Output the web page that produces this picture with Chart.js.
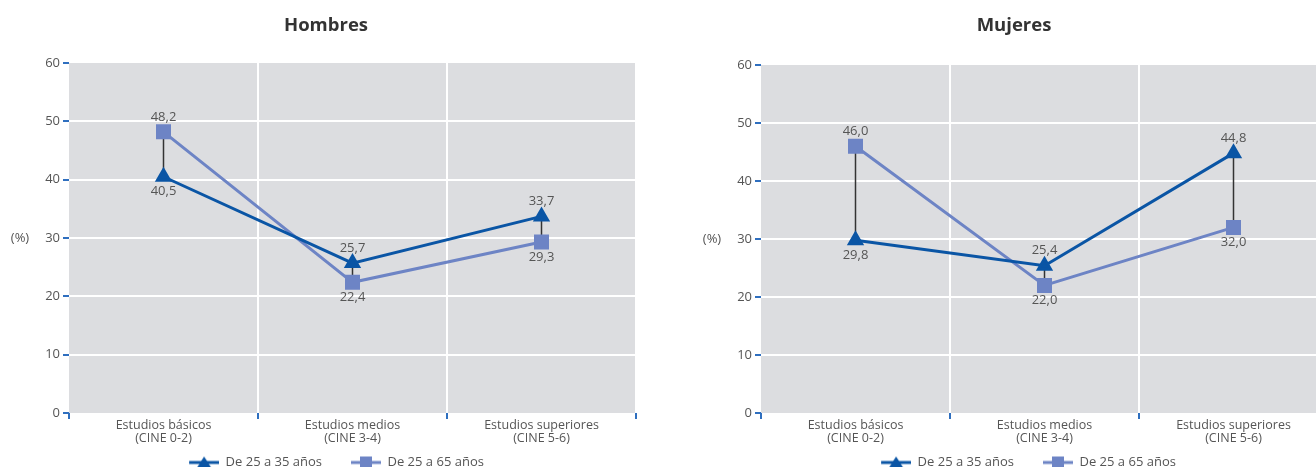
<!DOCTYPE html>
<html>
<head>
<meta charset="utf-8">
<script src="https://cdn.jsdelivr.net/npm/chart.js@4/dist/chart.umd.min.js"></script>
<style>
  html, body { margin: 0; padding: 0; background: #fff; }
  #wrap { position: relative; width: 1316px; height: 467px; overflow: hidden; }
  .box { position: absolute; top: 0; width: 656px; height: 479px; }
</style>
</head>
<body>
<div id="wrap">
  <div class="box" style="left:0"><canvas id="hombres"></canvas></div>
  <div class="box" style="left:692px"><canvas id="mujeres"></canvas></div>
</div>
<script>
// datos
const categorias = [["Estudios básicos", "(CINE 0-2)"], ["Estudios medios", "(CINE 3-4)"], ["Estudios superiores", "(CINE 5-6)"]];
const series = ["De 25 a 35 años", "De 25 a 65 años"];
const hombres35 = [40.5, 25.7, 33.7];
const hombres65 = [48.2, 22.4, 29.3];
const mujeres35 = [29.8, 25.4, 44.8];
const mujeres65 = [46.0, 22.0, 32.0];
const ticksY = [0, 10, 20, 30, 40, 50, 60];

const AZUL = "#0a55a5";
const AZUL_CLARO = "#6d84c5";
const GRIS = "#dcdde0";
const TEXTO = "#555";
const FUENTE = "'Open Sans', sans-serif";

const fmt = v => v.toFixed(1).replace(".", ",");

// iconos de leyenda: hueco a la izquierda + linea con marcador
function icono(color, tipo) {
  const c = document.createElement("canvas");
  c.width = 55; c.height = 14;
  const ctx = c.getContext("2d");
  const x0 = 25;
  ctx.strokeStyle = color; ctx.lineWidth = 3;
  ctx.beginPath(); ctx.moveTo(x0, 7); ctx.lineTo(x0 + 30, 7); ctx.stroke();
  ctx.fillStyle = color;
  ctx.beginPath();
  if (tipo === "triangle") {
    ctx.moveTo(x0 + 15, 1); ctx.lineTo(x0 + 22, 12); ctx.lineTo(x0 + 8, 12); ctx.closePath();
  } else {
    ctx.rect(x0 + 9, 1, 12, 12);
  }
  ctx.fill();
  return c;
}
const iconos = [icono(AZUL, "triangle"), icono(AZUL_CLARO, "rect")];

// fondo gris, titulo, (%), conectores y etiquetas
const extras = {
  id: "extras",
  beforeDraw(chart, args, opts) {
    const a = chart.chartArea, ctx = chart.ctx;
    ctx.save();
    ctx.fillStyle = GRIS;
    ctx.fillRect(a.left, a.top, a.right - a.left, a.bottom - a.top);
    ctx.fillStyle = "#333";
    ctx.font = "bold 18.5px " + FUENTE;
    ctx.textAlign = "center"; ctx.textBaseline = "middle";
    ctx.fillText(opts.titulo, opts.tituloX, 26);
    ctx.fillStyle = TEXTO;
    ctx.font = "13px " + FUENTE;
    ctx.fillText("(%)", 20, (a.top + a.bottom) / 2);
    ctx.restore();
  },
  beforeDatasetsDraw(chart) {
    const ctx = chart.ctx;
    const m0 = chart.getDatasetMeta(0).data, m1 = chart.getDatasetMeta(1).data;
    ctx.save();
    ctx.strokeStyle = "#333"; ctx.lineWidth = 1.5;
    m0.forEach((p, i) => {
      ctx.beginPath(); ctx.moveTo(p.x, p.y); ctx.lineTo(m1[i].x, m1[i].y); ctx.stroke();
    });
    ctx.restore();
  },
  afterDatasetsDraw(chart) {
    const ctx = chart.ctx;
    const d0 = chart.data.datasets[0].data, d1 = chart.data.datasets[1].data;
    const m0 = chart.getDatasetMeta(0).data, m1 = chart.getDatasetMeta(1).data;
    ctx.save();
    ctx.fillStyle = TEXTO;
    ctx.font = "13px " + FUENTE;
    ctx.textAlign = "center"; ctx.textBaseline = "middle";
    d0.forEach((v, i) => {
      const arriba0 = v >= d1[i];
      ctx.fillText(fmt(v), m0[i].x, m0[i].y + (arriba0 ? -15 : 15));
      ctx.fillText(fmt(d1[i]), m1[i].x, m1[i].y + (arriba0 ? 15 : -15));
    });
    ctx.restore();
  }
};

function grafico(id, titulo, tituloX, top, d35, d65) {
  new Chart(document.getElementById(id), {
    type: "line",
    data: {
      labels: categorias,
      datasets: [
        { label: series[0], data: d35, borderColor: AZUL, backgroundColor: AZUL, borderWidth: 3,
          pointStyle: "triangle", pointRadius: 7, pointHoverRadius: 7 },
        { label: series[1], data: d65, borderColor: AZUL_CLARO, backgroundColor: AZUL_CLARO, borderWidth: 3,
          pointStyle: "rect", pointRadius: 8.5, pointHoverRadius: 8.5 }
      ]
    },
    options: {
      responsive: true,
      maintainAspectRatio: false,
      animation: false,
      layout: { padding: { top: top, left: 12, right: 20, bottom: 0 } },
      scales: {
        x: {
          offset: true,
          grid: {
            offset: true,
            color: c => (c.index === 0 || c.index === categorias.length) ? "rgba(0,0,0,0)" : "#fff",
            lineWidth: 2, tickColor: "#2f6fbf", tickLength: 6, tickWidth: 2
          },
          border: { display: false },
          ticks: { color: TEXTO, padding: 0, font: { family: FUENTE, size: 12.5, lineHeight: 1.06 } },
          afterFit: s => { s.height = 39; }
        },
        y: {
          min: 0, max: 60,
          afterBuildTicks: s => { s.ticks = ticksY.map(v => ({ value: v })); },
          grid: {
            color: c => (c.tick.value === 0 || c.tick.value === 60) ? "rgba(0,0,0,0)" : "#fff",
            lineWidth: 2, tickColor: "#2f6fbf", tickLength: 6, tickWidth: 2
          },
          border: { display: false },
          ticks: { color: TEXTO, padding: 3, font: { family: FUENTE, size: 13 } },
          afterFit: s => { s.width = 57; }
        }
      },
      plugins: {
        extras: { titulo: titulo, tituloX: tituloX },
        tooltip: { enabled: false },
        title: { display: false },
        legend: {
          position: "bottom",
          labels: {
            usePointStyle: true, pointStyleWidth: 55, padding: 4,
            color: TEXTO, font: { family: FUENTE, size: 13 },
            generateLabels: chart => chart.data.datasets.map((ds, i) => ({
              text: ds.label, pointStyle: iconos[i], fillStyle: ds.borderColor,
              strokeStyle: ds.borderColor, lineWidth: 0, datasetIndex: i, fontColor: TEXTO
            }))
          }
        }
      }
    },
    plugins: [extras]
  });
}

grafico("hombres", "Hombres", 326, 63, hombres35, hombres65);
grafico("mujeres", "Mujeres", 322, 65, mujeres35, mujeres65);
</script>
</body>
</html>
